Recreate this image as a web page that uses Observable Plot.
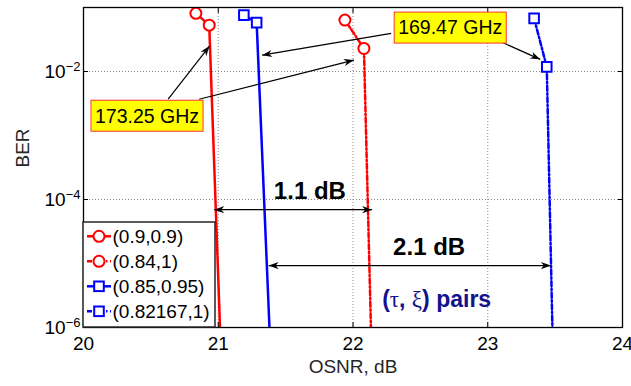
<!DOCTYPE html>
<html><head><meta charset="utf-8">
<script src="https://cdn.jsdelivr.net/npm/d3@7"></script>
<script src="https://cdn.jsdelivr.net/npm/@observablehq/plot@0.6"></script>
<style>
body{margin:0;background:#fff}
svg{font-family:"Liberation Sans",Arial,Helvetica,sans-serif}
</style>
</head><body><div id="chart"></div>
<script>
// ---- data ----
const seriesNames = ["(0.9,0.9)", "(0.84,1)", "(0.85,0.95)", "(0.82167,1)"];
const seriesColors = ["#ff0000", "#ff0000", "#0000ff", "#0000ff"];
const seriesSymbols = ["circle", "circle", "square", "square"];
const seriesDashed = [false, true, false, true];
const osnr_a = [20.834, 20.933, 21.03];   const ber_a = [0.081, 0.053, 1e-7];
const osnr_b = [21.940, 22.081, 22.145];  const ber_b = [0.0636, 0.0229, 1e-7];
const osnr_c = [21.190, 21.285, 21.40];   const ber_c = [0.076, 0.058, 1e-7];
const osnr_d = [23.344, 23.438, 23.49];   const ber_d = [0.0676, 0.0118, 1e-7];
const seriesX = [osnr_a, osnr_b, osnr_c, osnr_d];
const seriesY = [ber_a, ber_b, ber_c, ber_d];
const xTicks = [20, 21, 22, 23, 24];
const yTicks = [1e-6, 1e-4, 1e-2];
const xLabel = "OSNR, dB";
const yLabel = "BER";
// annotations (data units)
const noteLabels = ["173.25 GHz", "169.47 GHz"];
const noteX = [20.475, 22.725];
const noteY = [2.0e-3, 0.0477];
const arrowX1 = [20.632, 20.862, 22.287, 23.100];
const arrowY1 = [3.62e-3, 3.62e-3, 0.0387, 0.0286];
const arrowX2 = [20.939, 22.010, 21.329, 23.393];
const arrowY2 = [0.0245, 0.0148, 0.0177, 0.0152];
const gapLabels = ["1.1 dB", "2.1 dB"];
const gapX1 = [20.974, 21.378];
const gapX2 = [22.146, 23.472];
const gapY = [6.8e-5, 9.1e-6];
const gapTextX = [21.68, 22.565];
const gapTextY = [1.33e-4, 1.76e-5];
const pairsX = 22.22, pairsY = 2.77e-6;

const rows = [];
seriesNames.forEach((n, i) => seriesX[i].forEach((x, j) => rows.push({series: n, i, x, y: seriesY[i][j]})));

const dashPattern = "5,2.5,1.5,2.5";
const lineMarks = seriesNames.map((n, i) => Plot.line(rows.filter(d => d.i === i), {
  x: "x", y: "y", stroke: seriesColors[i], strokeWidth: 2.5,
  strokeDasharray: seriesDashed[i] ? dashPattern : null, clip: true
}));
const dotMarks = seriesNames.map((n, i) => Plot.dot(rows.filter(d => d.i === i), {
  x: "x", y: "y", stroke: seriesColors[i], strokeWidth: 2, fill: "white",
  symbol: seriesSymbols[i], r: seriesSymbols[i] === "circle" ? 5.5 : 5.4, clip: true
}));
const blank = () => "";

const svg = Plot.plot({
  width: 631, height: 386,
  marginLeft: 83, marginRight: 9, marginTop: 7, marginBottom: 59,
  style: {fontFamily: '"Liberation Sans",Arial,sans-serif', fontSize: "19px", color: "black", background: "white"},
  x: {domain: [20, 24]},
  y: {type: "log", domain: [1e-6, 1e-1]},
  marks: [
    Plot.gridX([21, 22, 23], {stroke: "#8a8a8a", strokeOpacity: 1, strokeDasharray: "1,2"}),
    Plot.gridY([1e-4, 1e-2], {stroke: "#8a8a8a", strokeOpacity: 1, strokeDasharray: "1,2"}),
    ...lineMarks,
    ...dotMarks,
    Plot.axisX(xTicks, {anchor: "top", tickSize: -5, tickFormat: blank, label: null}),
    Plot.axisY(yTicks, {anchor: "right", tickSize: -5, tickFormat: blank, label: null}),
    Plot.axisX(xTicks, {anchor: "bottom", tickSize: -5, tickPadding: 14, label: null, tickFormat: d => String(d)}),
    Plot.axisY(yTicks, {anchor: "left", tickSize: -5, tickPadding: 8, label: null,
      tickFormat: d => "10^" + Math.round(Math.log10(d))}),
    Plot.frame({stroke: "black", strokeWidth: 1.3}),
    Plot.text([xLabel], {frameAnchor: "bottom", dy: 45, text: d => d, fill: "#262626", fontSize: 19}),
    Plot.text([yLabel], {frameAnchor: "left", dx: -61, rotate: -90, text: d => d, fill: "#262626", fontSize: 19}),
    Plot.text(gapLabels, {x: (d, i) => gapTextX[i], y: (d, i) => gapTextY[i], text: d => d, fontWeight: "bold", fontSize: 24}),
  ]
});
document.getElementById("chart").appendChild(svg);

const sx = svg.scale("x"), sy = svg.scale("y");
const X = v => sx.apply(v), Y = v => sy.apply(v);
const root = d3.select(svg);

// axis tick label font size
root.selectAll("g[aria-label*='tick label']").each(function () {
  d3.select(this).attr("font-size", null).style("font-size", "19px");
  d3.select(this).selectAll("text").attr("font-size", null).style("font-size", "19px");
});

// superscript tick labels
root.selectAll("text").each(function () {
  const m = this.textContent.match(/^10\^(-?\d+)$/);
  if (!m) return;
  const el = d3.select(this);
  el.text("10");
  el.append("tspan").attr("dy", "-0.5em").style("font-size", "13px").text(m[1].replace("-", "\u2212"));
});

// arrowhead marker
const defs = root.append("defs");
defs.append("marker").attr("id", "ah").attr("viewBox", "-11 -5 12 10")
  .attr("refX", 0).attr("refY", 0).attr("markerWidth", 12).attr("markerHeight", 10)
  .attr("markerUnits", "userSpaceOnUse").attr("orient", "auto-start-reverse")
  .append("path").attr("d", "M0,0L-10,-3.6L-7,0L-10,3.6Z").attr("fill", "black");

// legend
const lg = root.append("g").attr("text-anchor", "start");
const lx = X(20), ly = Y(1e-6);
const rowH = 25;
lg.append("rect").attr("x", lx).attr("y", ly - 105).attr("width", 132).attr("height", 105)
  .attr("fill", "white").attr("stroke", "#262626").attr("stroke-width", 1.5);
seriesNames.forEach((n, i) => {
  const cy = ly - 90.7 + i * rowH;
  lg.append("line").attr("x1", lx + 4).attr("x2", lx + 28).attr("y1", cy).attr("y2", cy)
    .attr("stroke", seriesColors[i]).attr("stroke-width", 2.5)
    .attr("stroke-dasharray", seriesDashed[i] ? dashPattern : null);
  if (seriesSymbols[i] === "circle") {
    lg.append("circle").attr("cx", lx + 16).attr("cy", cy).attr("r", 5.5)
      .attr("fill", "white").attr("stroke", seriesColors[i]).attr("stroke-width", 2);
  } else {
    lg.append("rect").attr("x", lx + 16 - 4.8).attr("y", cy - 4.8).attr("width", 9.6).attr("height", 9.6)
      .attr("fill", "white").attr("stroke", seriesColors[i]).attr("stroke-width", 2);
  }
  lg.append("text").attr("x", lx + 29.5).attr("y", cy).attr("dy", "0.35em")
    .attr("text-anchor", "start").style("font-size", "19px").text(n);
});

// annotation arrows
const ag = root.append("g");
arrowX1.forEach((x1, i) => {
  ag.append("line").attr("x1", X(x1)).attr("y1", Y(arrowY1[i])).attr("x2", X(arrowX2[i])).attr("y2", Y(arrowY2[i]))
    .attr("stroke", "black").attr("stroke-width", 1.2).attr("marker-end", "url(#ah)");
});
gapX1.forEach((x1, i) => {
  ag.append("line").attr("x1", X(x1)).attr("y1", Y(gapY[i])).attr("x2", X(gapX2[i])).attr("y2", Y(gapY[i]))
    .attr("stroke", "black").attr("stroke-width", 1.2)
    .attr("marker-start", "url(#ah)").attr("marker-end", "url(#ah)");
});

// yellow boxes
noteLabels.forEach((t, i) => {
  const g = root.append("g");
  const rect = g.append("rect");
  const txt = g.append("text").attr("x", X(noteX[i])).attr("y", Y(noteY[i])).attr("dy", "0.35em")
    .attr("text-anchor", "middle").style("font-size", "19.5px").text(t);
  const bb = txt.node().getBBox();
  rect.attr("x", bb.x - 4).attr("y", Y(noteY[i]) - 15.5).attr("width", bb.width + 8).attr("height", 31)
    .attr("fill", "#ffff00").attr("stroke", "#ff3333").attr("stroke-width", 1);
});

// (tau, xi) pairs
const pt = root.append("text").attr("x", X(pairsX)).attr("y", Y(pairsY)).attr("dy", "0.35em")
  .attr("text-anchor", "start")
  .attr("fill", "#12128c").style("font-size", "23px").attr("font-weight", "bold");
pt.append("tspan").text("(");
pt.append("tspan").attr("font-family", '"Liberation Serif","DejaVu Serif",serif').attr("font-weight", "normal").text("\u03c4");
pt.append("tspan").text(", ");
pt.append("tspan").attr("font-family", '"Liberation Serif","DejaVu Serif",serif').attr("font-weight", "normal").text("\u03be");
pt.append("tspan").text(") pairs");
</script>
</body></html>
